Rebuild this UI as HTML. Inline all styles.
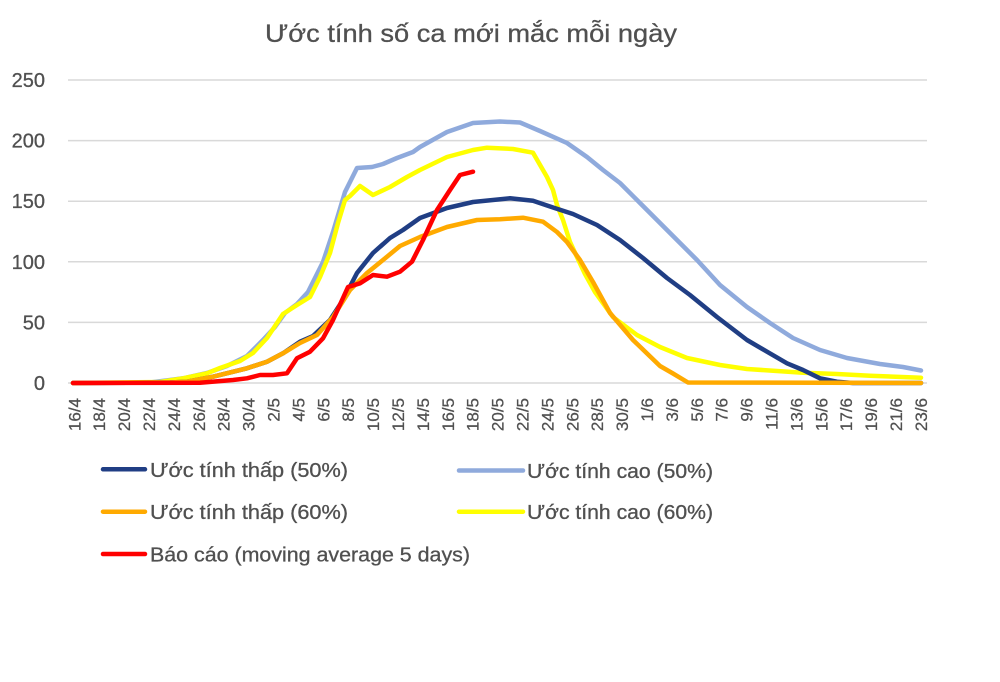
<!DOCTYPE html>
<html>
<head>
<meta charset="utf-8">
<style>
html,body{margin:0;padding:0;background:#fff;}
svg{display:block;}
text{font-family:"Liberation Sans",Arial,sans-serif;fill:#505050;}
</style>
</head>
<body>
<svg width="1000" height="682" viewBox="0 0 1000 682" xmlns="http://www.w3.org/2000/svg">
<rect x="0" y="0" width="1000" height="682" fill="#fff"/>
<!-- title -->
<text x="265" y="42" font-size="25" textLength="412" lengthAdjust="spacingAndGlyphs" stroke="#505050" stroke-width="0.3">Ước tính số ca mới mắc mỗi ngày</text>
<!-- gridlines -->
<g stroke="#d9d9d9" stroke-width="1.5">
<line x1="68" y1="80" x2="927" y2="80"/>
<line x1="68" y1="140.6" x2="927" y2="140.6"/>
<line x1="68" y1="201.2" x2="927" y2="201.2"/>
<line x1="68" y1="261.8" x2="927" y2="261.8"/>
<line x1="68" y1="322.4" x2="927" y2="322.4"/>
<line x1="68" y1="383" x2="927" y2="383"/>
</g>
<!-- y labels -->
<g font-size="20" text-anchor="end" stroke="#505050" stroke-width="0.3">
<text x="45" y="87">250</text>
<text x="45" y="147.6">200</text>
<text x="45" y="208.2">150</text>
<text x="45" y="268.8">100</text>
<text x="45" y="329.4">50</text>
<text x="45" y="390">0</text>
</g>
<!-- x labels -->
<g font-size="17" text-anchor="end" stroke="#505050" stroke-width="0.25">
<text transform="translate(74.2,398) rotate(-90)" dy="0.36em">16/4</text>
<text transform="translate(99.1,398) rotate(-90)" dy="0.36em">18/4</text>
<text transform="translate(124.0,398) rotate(-90)" dy="0.36em">20/4</text>
<text transform="translate(148.9,398) rotate(-90)" dy="0.36em">22/4</text>
<text transform="translate(173.8,398) rotate(-90)" dy="0.36em">24/4</text>
<text transform="translate(198.7,398) rotate(-90)" dy="0.36em">26/4</text>
<text transform="translate(223.6,398) rotate(-90)" dy="0.36em">28/4</text>
<text transform="translate(248.5,398) rotate(-90)" dy="0.36em">30/4</text>
<text transform="translate(273.4,398) rotate(-90)" dy="0.36em">2/5</text>
<text transform="translate(298.3,398) rotate(-90)" dy="0.36em">4/5</text>
<text transform="translate(323.2,398) rotate(-90)" dy="0.36em">6/5</text>
<text transform="translate(348.1,398) rotate(-90)" dy="0.36em">8/5</text>
<text transform="translate(373.0,398) rotate(-90)" dy="0.36em">10/5</text>
<text transform="translate(397.9,398) rotate(-90)" dy="0.36em">12/5</text>
<text transform="translate(422.8,398) rotate(-90)" dy="0.36em">14/5</text>
<text transform="translate(447.7,398) rotate(-90)" dy="0.36em">16/5</text>
<text transform="translate(472.6,398) rotate(-90)" dy="0.36em">18/5</text>
<text transform="translate(497.5,398) rotate(-90)" dy="0.36em">20/5</text>
<text transform="translate(522.4,398) rotate(-90)" dy="0.36em">22/5</text>
<text transform="translate(547.3,398) rotate(-90)" dy="0.36em">24/5</text>
<text transform="translate(572.2,398) rotate(-90)" dy="0.36em">26/5</text>
<text transform="translate(597.1,398) rotate(-90)" dy="0.36em">28/5</text>
<text transform="translate(622.0,398) rotate(-90)" dy="0.36em">30/5</text>
<text transform="translate(646.9,398) rotate(-90)" dy="0.36em">1/6</text>
<text transform="translate(671.8,398) rotate(-90)" dy="0.36em">3/6</text>
<text transform="translate(696.7,398) rotate(-90)" dy="0.36em">5/6</text>
<text transform="translate(721.6,398) rotate(-90)" dy="0.36em">7/6</text>
<text transform="translate(746.5,398) rotate(-90)" dy="0.36em">9/6</text>
<text transform="translate(771.4,398) rotate(-90)" dy="0.36em">11/6</text>
<text transform="translate(796.3,398) rotate(-90)" dy="0.36em">13/6</text>
<text transform="translate(821.2,398) rotate(-90)" dy="0.36em">15/6</text>
<text transform="translate(846.1,398) rotate(-90)" dy="0.36em">17/6</text>
<text transform="translate(871.0,398) rotate(-90)" dy="0.36em">19/6</text>
<text transform="translate(895.9,398) rotate(-90)" dy="0.36em">21/6</text>
<text transform="translate(920.8,398) rotate(-90)" dy="0.36em">23/6</text>
</g>
<!-- series -->
<g fill="none" stroke-width="4.5" stroke-linejoin="round" stroke-linecap="round">
<!-- light blue -->
<polyline stroke="#8FAADC" points="73,383 150,382.5 170,380 185,378 207,373 227,366 247,356 263,340 275,327 285,313 297,304 308,292 323,262 333,232 345,192 357,168 372,167 383,164 397,158 413,152 420,147 447,132 473,123 500,121.5 520,122.5 540,131 567,143 587,157 603,170 620,183 640,203 670,233 697,260 720,285 747,307 770,323 793,338 820,350 847,358 880,364 903,367 921,370.5"/>
<!-- yellow -->
<polyline stroke="#FFFF00" points="73,383 160,382 183,378.3 207,373.3 220,368 240,361 253,353 267,338 283,314 297,305 310,297 320,277 330,253 338,223 345,200 350,196 360,186 373,195 390,187 407,177 420,170 447,157 473,150 487,147.7 513,149 533,152.7 547,177 553,190 557,205 563,220 570,242 577,257 585,274 595,292 613,317 637,335 660,347 687,358 720,365 747,369 777,371 803,372.7 837,374 870,375.7 921,377.7"/>
<!-- navy -->
<polyline stroke="#203E84" points="73,383 170,382.5 187,381.7 213,376.7 247,368.3 267,361.7 283,353.3 300,341.7 313,336 330,320 343,300 357,273 373,253 390,238 403,230 420,218 447,208 473,202 510,198.3 533,200.7 553,207.5 573,214 597,225 620,240 643,258 667,278 690,295 717,317 747,340 767,351.7 787,363.3 803,370 820,378.3 837,381.7 853,383 921,383"/>
<!-- orange -->
<polyline stroke="#FFAA00" points="73,383 170,382.5 187,381.7 213,376.7 247,368.3 267,361.7 283,353.3 300,343 317,335 333,317 350,290 367,273 383,260 400,246 420,237 447,227 477,220 500,219.3 523,217.7 543,221.7 557,232 567,242 580,260 593,282 610,313 633,340 660,366 673,373.5 688,382.5 921,383"/>
<!-- red -->
<polyline stroke="#FF0000" points="73,383 200,382.7 233,380 247,378.3 260,375 273,375 287,373.3 297,358.3 310,351.7 323,338.3 333,320 348,287 360,283.3 373,275 387,276.7 400,271.7 412,261.7 423,240 437,210 450,190 460,175 473,171.7"/>
</g>
<!-- legend -->
<g stroke-width="4.5" stroke-linecap="round">
<line x1="103" y1="469.3" x2="145" y2="469.3" stroke="#203E84"/>
<line x1="459" y1="470.5" x2="523" y2="470.5" stroke="#8FAADC"/>
<line x1="103" y1="511.7" x2="145" y2="511.7" stroke="#FFAA00"/>
<line x1="459" y1="511.7" x2="523" y2="511.7" stroke="#FFFF00"/>
<line x1="103" y1="554" x2="145" y2="554" stroke="#FF0000"/>
</g>
<g font-size="20" stroke="#505050" stroke-width="0.3">
<text x="150" y="477" textLength="198" lengthAdjust="spacingAndGlyphs">Ước tính thấp (50%)</text>
<text x="527" y="478" textLength="186" lengthAdjust="spacingAndGlyphs">Ước tính cao (50%)</text>
<text x="150" y="519" textLength="198" lengthAdjust="spacingAndGlyphs">Ước tính thấp (60%)</text>
<text x="527" y="519" textLength="186" lengthAdjust="spacingAndGlyphs">Ước tính cao (60%)</text>
<text x="150" y="561.5" textLength="320" lengthAdjust="spacingAndGlyphs">Báo cáo (moving average 5 days)</text>
</g>
</svg>
</body>
</html>
